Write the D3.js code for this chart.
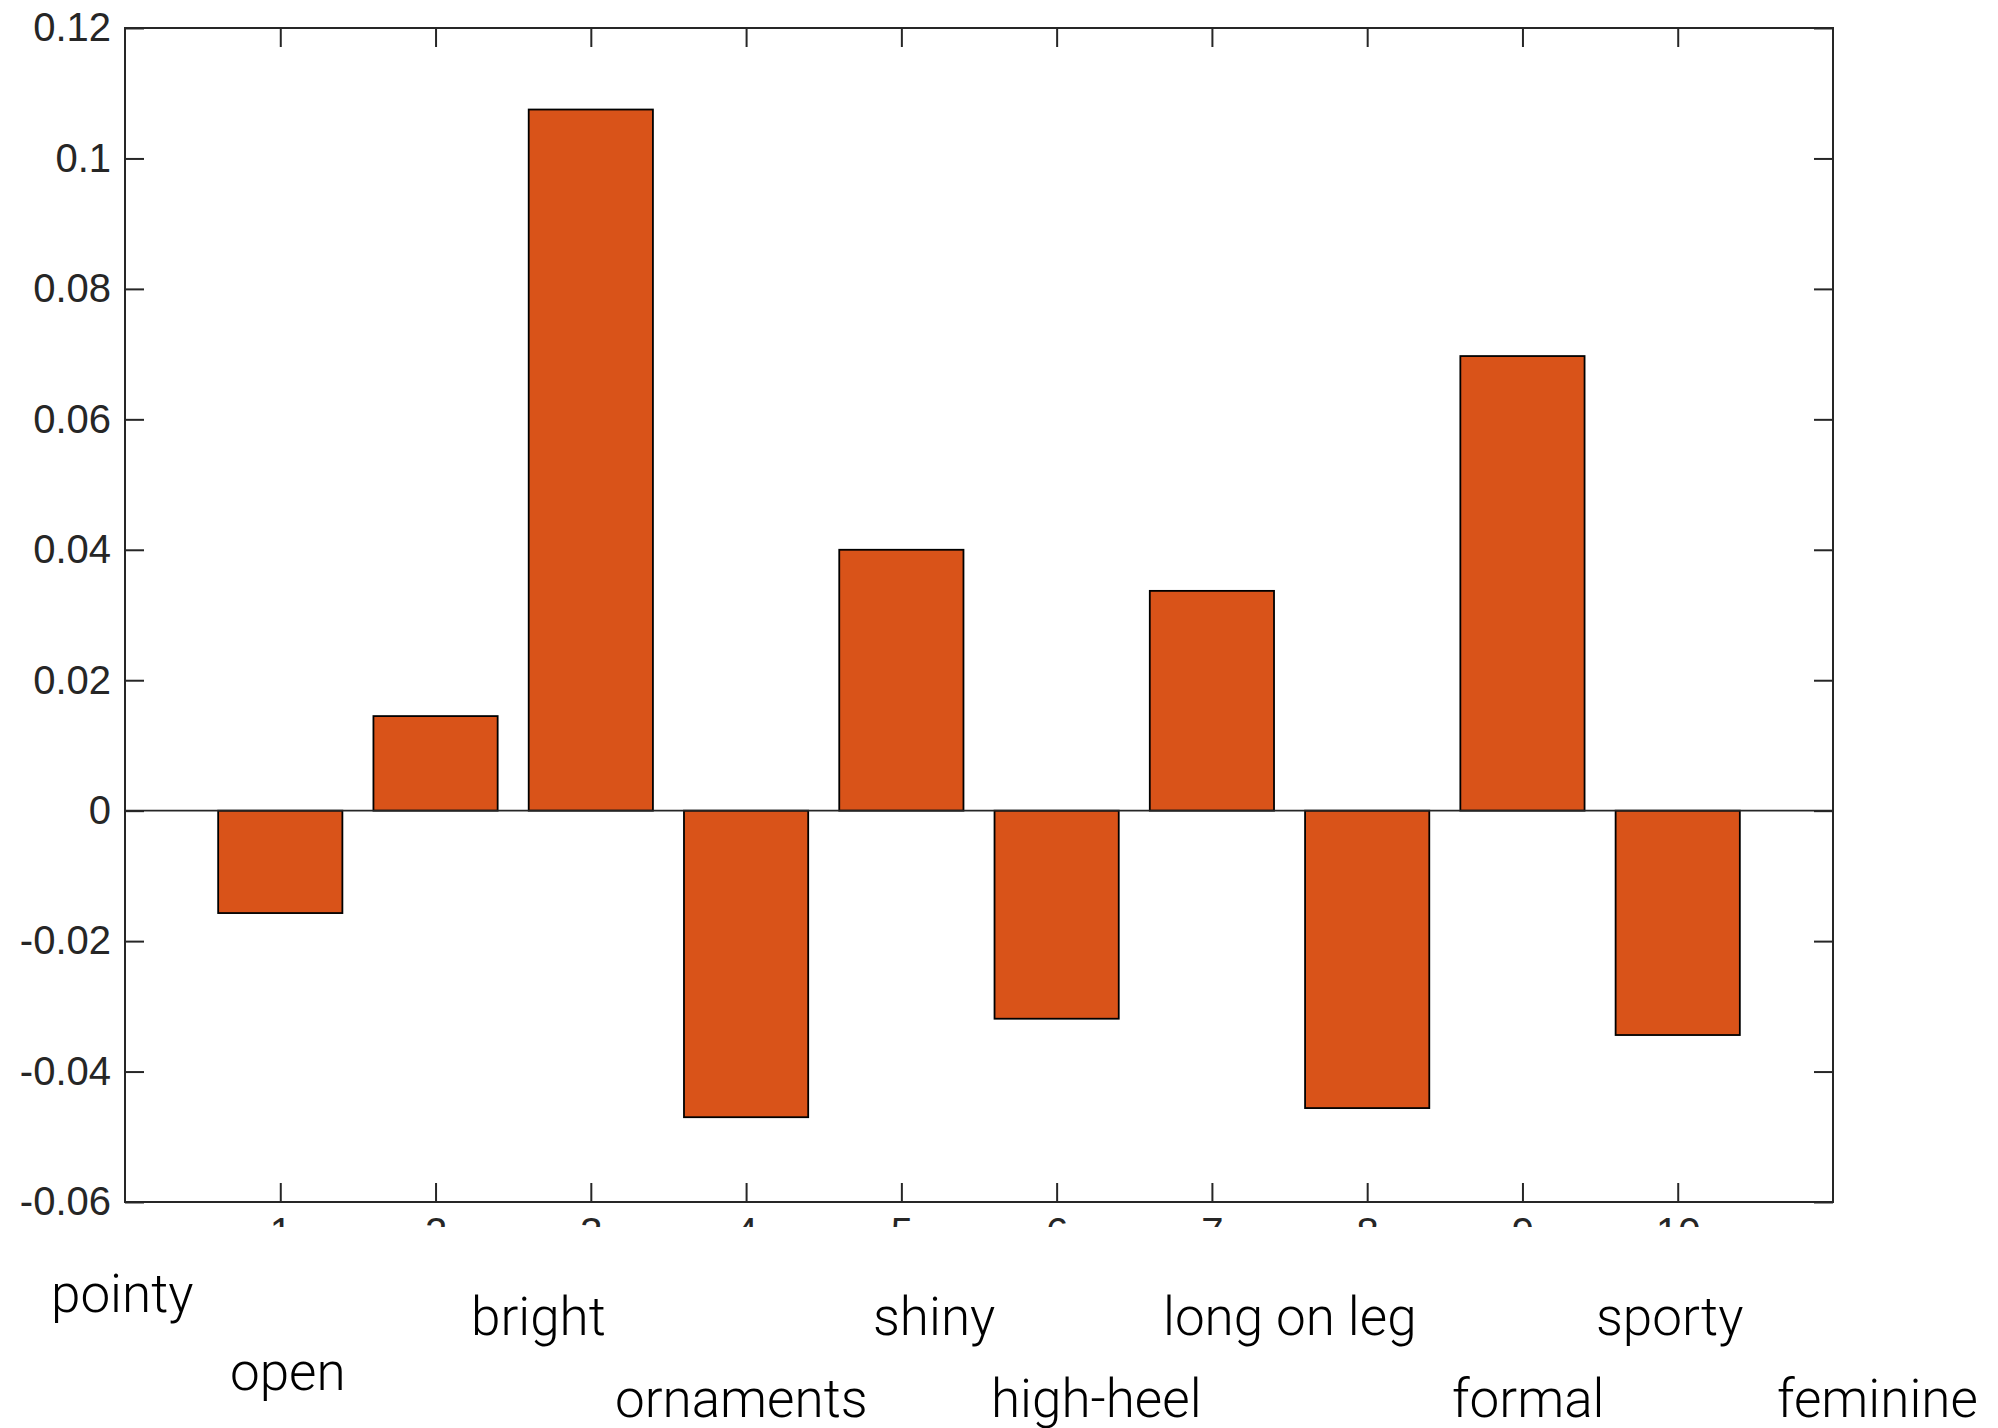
<!DOCTYPE html>
<html>
<head>
<meta charset="utf-8">
<script src="https://cdn.jsdelivr.net/npm/d3@7"></script>
<style>
  html, body { margin: 0; padding: 0; background: #fff; }
  svg { display: block; }
</style>
</head>
<body>
<svg id="chart" width="1998" height="1428"></svg>
<script>
// ---- data ----
const categories = ["pointy", "open", "bright", "ornaments", "shiny", "high-heel", "long on leg", "formal", "sporty", "feminine"];
const barIndex = [1, 2, 3, 4, 5, 6, 7, 8, 9, 10];
const values = [-0.0157, 0.0145, 0.1075, -0.0470, 0.0400, -0.0319, 0.0337, -0.0456, 0.0697, -0.0344];
const yTickValues = [-0.06, -0.04, -0.02, 0, 0.02, 0.04, 0.06, 0.08, 0.1, 0.12];
const yTickLabels = ["-0.06", "-0.04", "-0.02", "0", "0.02", "0.04", "0.06", "0.08", "0.1", "0.12"];
const xTickLabels = ["1", "2", "3", "4", "5", "6", "7", "8", "9", "10"];

// ---- layout (free-floating category labels: left x, baseline y) ----
const labelLayout = [
  [51, 1312], [230, 1390], [471, 1335], [615, 1417], [873, 1335],
  [991, 1417], [1163, 1335], [1452, 1417], [1596, 1335], [1777, 1417]
];

const L = 125, R = 1833, T = 28, B = 1202;
const axisColor = "#262626";
const svg = d3.select("#chart");

const x = d3.scaleLinear().domain([0, 11]).range([L, R]);
const y = d3.scaleLinear().domain([-0.06, 0.12]).range([B, T]);
const barW = 0.8;

// bars
svg.append("g").selectAll("rect").data(values).join("rect")
  .attr("x", (d, i) => x(barIndex[i] - barW / 2))
  .attr("width", x(barW) - x(0))
  .attr("y", d => y(Math.max(0, d)))
  .attr("height", d => Math.abs(y(d) - y(0)))
  .attr("fill", "#D95319")
  .attr("stroke", "#000")
  .attr("stroke-width", 1.8);

// zero baseline
svg.append("line")
  .attr("x1", L).attr("x2", R)
  .attr("y1", y(0)).attr("y2", y(0))
  .attr("stroke", axisColor).attr("stroke-width", 1.6);

function styleAxis(g, showText) {
  g.select(".domain").remove();
  g.selectAll(".tick line").attr("stroke", axisColor).attr("stroke-width", 2);
  g.selectAll(".tick text")
    .attr("fill", axisColor)
    .style("font-family", "'Liberation Sans', Arial, Helvetica, sans-serif")
    .style("font-size", "40px");
  if (!showText) g.selectAll(".tick text").remove();
}

// left axis
svg.append("g").attr("transform", `translate(${L},0)`)
  .call(d3.axisLeft(y).tickValues(yTickValues).tickFormat((d, i) => yTickLabels[i])
    .tickSize(-19).tickSizeOuter(0).tickPadding(14))
  .call(g => styleAxis(g, true));

// right axis
svg.append("g").attr("transform", `translate(${R},0)`)
  .call(d3.axisRight(y).tickValues(yTickValues).tickSize(-19).tickSizeOuter(0))
  .call(g => styleAxis(g, false));

// top axis
svg.append("g").attr("transform", `translate(0,${T})`)
  .call(d3.axisTop(x).tickValues(barIndex).tickSize(-19).tickSizeOuter(0))
  .call(g => styleAxis(g, false));

// bottom axis (tick labels are clipped in the reference just below their tops)
svg.append("clipPath").attr("id", "xclip")
  .append("rect").attr("x", -10).attr("y", -B).attr("width", 2100).attr("height", B + 25);
svg.append("g").attr("transform", `translate(0,${B})`)
  .attr("clip-path", "url(#xclip)")
  .call(d3.axisBottom(x).tickValues(barIndex).tickFormat((d, i) => xTickLabels[i])
    .tickSize(-19).tickSizeOuter(0).tickPadding(16))
  .call(g => styleAxis(g, true));

// box
svg.append("rect")
  .attr("x", L).attr("y", T).attr("width", R - L).attr("height", B - T)
  .attr("fill", "none").attr("stroke", axisColor).attr("stroke-width", 2);

// category labels
svg.append("g").selectAll("text").data(categories).join("text")
  .attr("x", (d, i) => labelLayout[i][0])
  .attr("y", (d, i) => labelLayout[i][1])
  .attr("fill", "#000")
  .style("font-family", "Roboto, 'Open Sans', sans-serif")
  .style("font-weight", 300)
  .style("font-size", "53px")
  .text(d => d);
</script>
</body>
</html>
